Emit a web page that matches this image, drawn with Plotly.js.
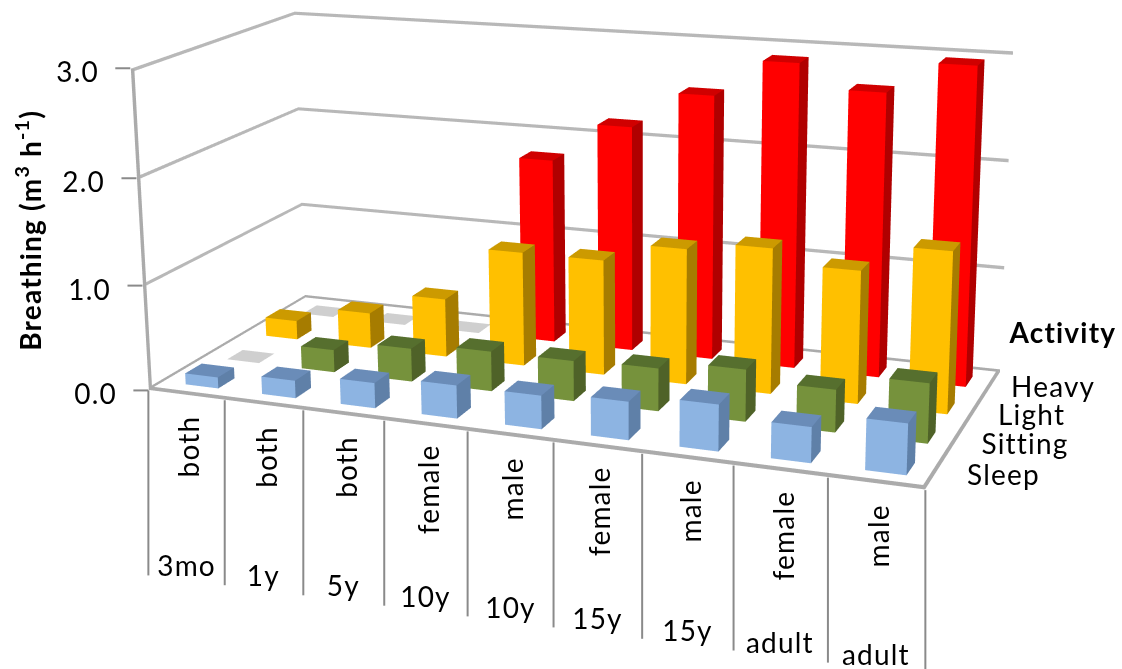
<!DOCTYPE html>
<html>
<head>
<meta charset="utf-8">
<script src="https://cdn.plot.ly/plotly-3.0.1.min.js"></script>
<style>
html, body { margin: 0; padding: 0; width: 1122px; height: 669px; overflow: hidden; background: #fff; }
#chart { position: absolute; left: -162px; top: -747px; width: 1284px; height: 1924px; }
.annotation text { letter-spacing: 1.2px; }
</style>
</head>
<body>
<div id="chart"></div>
<script>
// Breathing rate by age group, sex and activity level.
const ageLabels = ['3mo', '1y', '5y', '10y', '10y', '15y', '15y', 'adult', 'adult'];
const sexLabels = ['both', 'both', 'both', 'female', 'male', 'female', 'male', 'female', 'male'];
const activities = ['Sleep', 'Sitting', 'Light', 'Heavy'];

const sleep   = [0.11, 0.17, 0.24, 0.31, 0.31, 0.35, 0.42, 0.32, 0.45];
const sitting = [0, 0.22, 0.32, 0.38, 0.38, 0.40, 0.48, 0.39, 0.54];
const light   = [0.19, 0.35, 0.57, 1.10, 1.10, 1.28, 1.36, 1.23, 1.48];
const heavy   = [0, 0, 0, 1.80, 2.18, 2.53, 2.88, 2.66, 2.95];
const valueTicks = [0, 1, 2, 3];

const seriesValues = [sleep, sitting, light, heavy];
const seriesShades = [
  { front: '#8db4e2', top: '#6a8cb8', side: '#5f80a8' },
  { front: '#76923c', top: '#566f2e', side: '#4f6228' },
  { front: '#ffc000', top: '#cc9a00', side: '#a67c00' },
  { front: '#ff0000', top: '#d00000', side: '#b00000' }
];
const emptyShade = '#cfcfcf';

const W = 1284, H = 1924, LEFT = -162, TOP = -747;
const CX = LEFT + W / 2, CY = TOP + H / 2, FOCAL = H / 2 / Math.tan(Math.PI / 8);
const aspect = { x: 1, y: 0.44, z: 0.419 };
const camera = {
  eye: { x: 1.004, y: -2.645, z: 0.747 },
  center: { x: -0.101, y: -0.064, z: 0.018 },
  up: { x: -0.0828, y: 0.239, z: 0.968 }
};
const xRange = [-0.5, 8.5], yRange = [-0.5, 3.5], zRange = [0, 3];

// Same pinhole model the scene uses, for placing the 2D labels next to the box.
const sub = (a, b) => [a[0] - b[0], a[1] - b[1], a[2] - b[2]];
const dot = (a, b) => a[0] * b[0] + a[1] * b[1] + a[2] * b[2];
const cross = (a, b) => [a[1] * b[2] - a[2] * b[1], a[2] * b[0] - a[0] * b[2], a[0] * b[1] - a[1] * b[0]];
const unit = a => { const n = Math.sqrt(dot(a, a)); return a.map(v => v / n); };
const eyeV = [camera.eye.x, camera.eye.y, camera.eye.z];
const fwd = unit(sub([camera.center.x, camera.center.y, camera.center.z], eyeV));
const right = unit(cross(fwd, [camera.up.x, camera.up.y, camera.up.z]));
const upV = cross(right, fwd);
function project(x, y, z) {
  const p = [
    ((x - 4) / 9) * aspect.x,
    ((y - 1.5) / 4) * aspect.y,
    ((z - 1.5) / 3) * aspect.z
  ];
  const d = sub(p, eyeV);
  const depth = dot(d, fwd);
  return [CX + FOCAL * dot(d, right) / depth, CY - FOCAL * dot(d, upV) / depth];
}
const paperX = sx => (sx - LEFT) / W;
const paperY = sy => 1 - (sy - TOP) / H;

const emptyMesh = () => ({ type: 'mesh3d', x: [], y: [], z: [], i: [], j: [], k: [], facecolor: [],
  flatshading: true, hoverinfo: 'skip', showscale: false,
  lighting: { ambient: 1, diffuse: 0, specular: 0, roughness: 1, fresnel: 0 } });

function addQuad(m, corners, color) {
  const b = m.x.length;
  corners.forEach(c => { m.x.push(c[0]); m.y.push(c[1]); m.z.push(c[2]); });
  m.i.push(b, b); m.j.push(b + 1, b + 2); m.k.push(b + 2, b + 3);
  m.facecolor.push(color, color);
}

// Faces sit a hair inside the scene bounds so the renderer's clipping leaves them whole.
const INSET = 0.004;

// One mesh per activity: a box for each age group, a flat tile for empty cells.
const BAR_X = [-0.195, 0.235], BAR_Y = [-0.17, 0.22];
function barMesh(values, row, shade) {
  const m = emptyMesh();
  values.forEach((v, col) => {
    const xa = col + BAR_X[0], xb = col + BAR_X[1], ya = row + BAR_Y[0], yb = row + BAR_Y[1];
    if (v === 0) {
      addQuad(m, [[xa, ya, INSET], [xb, ya, INSET], [xb, yb, INSET], [xa, yb, INSET]], emptyShade);
      return;
    }
    addQuad(m, [[xa, ya, INSET], [xb, ya, INSET], [xb, ya, v], [xa, ya, v]], shade.front);
    addQuad(m, [[xb, ya, INSET], [xb, yb, INSET], [xb, yb, v], [xb, ya, v]], shade.side);
    addQuad(m, [[xa, ya, v], [xb, ya, v], [xb, yb, v], [xa, yb, v]], shade.top);
  });
  return m;
}

// Gridlines and the floor outline as thin strips lying on the box faces.
const x0 = xRange[0] + INSET, x1 = xRange[1] - INSET, y0 = yRange[0] + INSET, y1 = yRange[1] - INSET;
const zFloor = zRange[0] + INSET, zTop = zRange[1] - INSET;
const GRID = '#b8b8b8', EDGE = '#ababab';
const frame = emptyMesh();
const GZ = 0.032, GX = 0.045;
valueTicks.slice(1).forEach(t => {
  const hi = Math.min(t + GZ / 2, zTop), lo = hi - GZ;
  addQuad(frame, [[x0, y0, lo], [x0, y1, lo], [x0, y1, hi], [x0, y0, hi]], GRID);
  addQuad(frame, [[x0, y1, lo], [x1, y1, lo], [x1, y1, hi], [x0, y1, hi]], GRID);
});
addQuad(frame, [[x0, y0, zFloor], [x1, y0, zFloor], [x1, y0, 0.04], [x0, y0, 0.04]], EDGE);
addQuad(frame, [[x0, y0, zFloor], [x0, y1, zFloor], [x0, y1, 0.03], [x0, y0, 0.03]], EDGE);
addQuad(frame, [[x0, y1, zFloor], [x1, y1, zFloor], [x1, y1, 0.03], [x0, y1, 0.03]], EDGE);
addQuad(frame, [[x1 - GX, y0, zFloor], [x1, y0, zFloor], [x1, y1, zFloor], [x1 - GX, y1, zFloor]], EDGE);
addQuad(frame, [[x0, y0, zFloor], [x0 + GX, y0, zFloor], [x0 + GX, y0, zTop], [x0, y0, zTop]], EDGE);

const traces = seriesValues.map((vals, s) => barMesh(vals, s, seriesShades[s]));
traces.push(frame);

const font = { family: 'Lato, Carlito, sans-serif', size: 28, color: '#000' };
const annotations = [], shapes = [];
const note = (text, sx, sy, extra) => annotations.push(Object.assign({
  text, x: paperX(sx), y: paperY(sy), xref: 'paper', yref: 'paper', showarrow: false,
  font, xanchor: 'center', yanchor: 'middle'
}, extra || {}));

// Value axis: ticks and numbers on the front-left corner.
valueTicks.forEach(t => {
  const [sx, sy] = project(-0.5, -0.5, t);
  shapes.push({ type: 'line', xref: 'paper', yref: 'paper', x0: paperX(sx - 15), x1: paperX(sx), y0: paperY(sy), y1: paperY(sy),
    line: { color: '#8a8a8a', width: 2 } });
  note(t.toFixed(1), sx - 31, sy + 3, { xanchor: 'right' });
});
note('<b>Breathing (m<sup>3</sup> h<sup>-1</sup>)</b>', 28, 230, { textangle: -90, font: Object.assign({}, font, { size: 28 }) });

// Two-level category axis under the front edge of the floor.
for (let c = 0; c <= 9; c++) {
  const [sx, sy] = project(c - 0.5, -0.5, 0);
  shapes.push({ type: 'line', xref: 'paper', yref: 'paper', x0: paperX(sx), x1: paperX(sx), y0: paperY(sy), y1: paperY(sy + 185),
    line: { color: '#8a8a8a', width: 2 } });
}
sexLabels.forEach((lab, c) => {
  const [sx, sy] = project(c, -0.5, 0);
  note(lab, sx + 2, sy + 21, { textangle: -90, yanchor: 'top' });
  note(ageLabels[c], sx, sy + 170);
});

// Depth axis labels beside the right edge of the floor.
activities.forEach((lab, s) => {
  const [sx, sy] = project(8.5, s, 0);
  note(lab, sx + 32 - 4 * s, sy + 1, { xanchor: 'left' });
});
note('<b>Activity</b>', 1062, 332);

const hidden = r => ({ visible: false, range: r, autorange: false, showspikes: false });
Plotly.newPlot('chart', traces, {
  width: W, height: H, autosize: false,
  margin: { l: 0, r: 0, t: 0, b: 0 },
  paper_bgcolor: '#fff',
  showlegend: false,
  hovermode: false,
  annotations, shapes,
  scene: {
    domain: { x: [0, 1], y: [0, 1] },
    bgcolor: '#fff',
    aspectmode: 'manual',
    aspectratio: aspect,
    camera: Object.assign({ projection: { type: 'perspective' } }, camera),
    xaxis: hidden(xRange), yaxis: hidden(yRange), zaxis: hidden(zRange),
    dragmode: false
  }
}, { displayModeBar: false, responsive: false });
</script>
</body>
</html>
